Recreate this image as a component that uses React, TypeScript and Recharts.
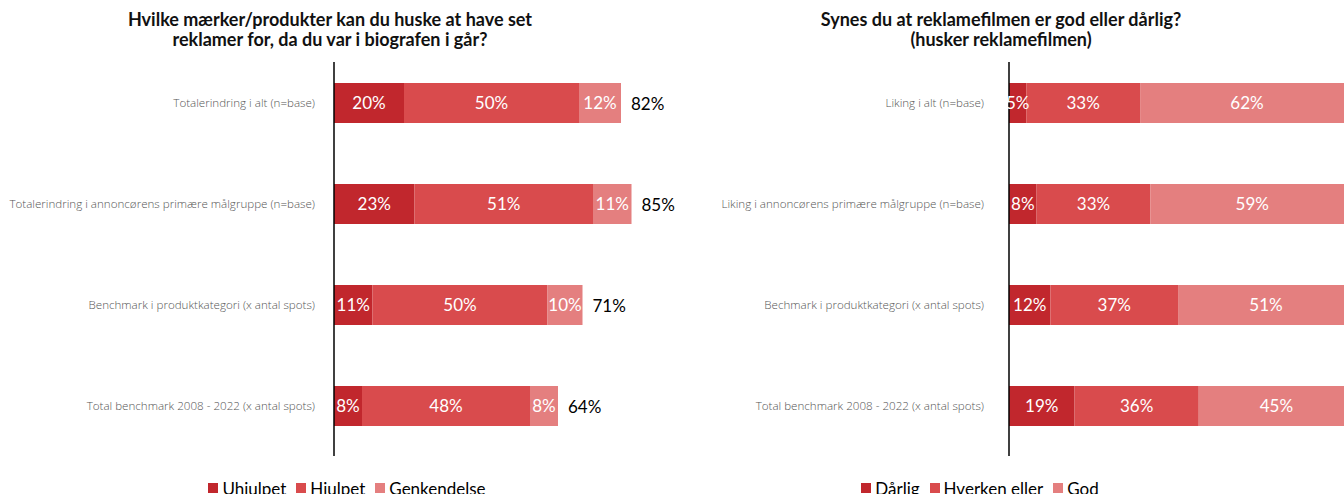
import React from 'react';
import { BarChart, Bar, XAxis, YAxis, LabelList, Legend } from 'recharts';

const recallCategories = [
  'Totalerindring i alt (n=base)',
  'Totalerindring i annoncørens primære målgruppe (n=base)',
  'Benchmark i produktkategori (x antal spots)',
  'Total benchmark 2008 - 2022 (x antal spots)',
];
const recallUnaided = [20, 23, 11, 8];
const recallAided = [50, 51, 50, 48];
const recallRecognition = [12, 11, 10, 8];
const recallSeriesNames = ['Uhjulpet', 'Hjulpet', 'Genkendelse'];

const likingCategories = [
  'Liking i alt (n=base)',
  'Liking i annoncørens primære målgruppe (n=base)',
  'Bechmark i produktkategori (x antal spots)',
  'Total benchmark 2008 - 2022 (x antal spots)',
];
const likingBad = [5, 8, 12, 19];
const likingNeutral = [33, 33, 37, 36];
const likingGood = [62, 59, 51, 45];
const likingSeriesNames = ['Dårlig', 'Hverken eller', 'God'];

const COLORS = ['#C1272D', '#D94B4D', '#E47F7F'];
const FONT = 'Lato, "Open Sans", sans-serif';

const recallData = recallCategories.map((cat, i) => ({
  cat,
  a: recallUnaided[i],
  b: recallAided[i],
  c: recallRecognition[i],
  total: recallUnaided[i] + recallAided[i] + recallRecognition[i],
}));

const likingData = likingCategories.map((cat, i) => ({
  cat,
  a: likingBad[i],
  b: likingNeutral[i],
  c: likingGood[i],
}));

const pct = (v: any) => `${v}%`;

const makeLegend = (names: string[]) => () => (
  <div
    style={{
      display: 'flex',
      justifyContent: 'center',
      alignItems: 'center',
      height: 20,
      fontFamily: FONT,
      fontSize: 17,
      color: '#000',
      whiteSpace: 'nowrap',
    }}
  >
    {names.map((n, i) => (
      <span key={n} style={{ display: 'inline-flex', alignItems: 'center', marginRight: 10 }}>
        <span style={{ display: 'inline-block', width: 10, height: 10, background: COLORS[i], marginRight: 4 }} />
        {n}
      </span>
    ))}
  </div>
);

const TotalLabel = (props: any) => {
  const { x, y, width, height, value } = props;
  return (
    <text
      x={x + width + 10}
      y={y + height / 2}
      dominantBaseline="central"
      fill="#000"
      fontSize={17}
      fontFamily={FONT}
    >
      {value}%
    </text>
  );
};

const CategoryTick = (props: any) => {
  const { x, y, payload } = props;
  return (
    <text
      x={x}
      y={y}
      textAnchor="end"
      dominantBaseline="central"
      fill="#555555"
      fontSize={11.6}
      fontWeight={300}
      fontFamily='"Open Sans", Lato, sans-serif'
    >
      {payload.value}
    </text>
  );
};

const labelStyle = { fill: '#fff', fontSize: 17, fontFamily: FONT };

function StackChart(props: {
  data: any[];
  names: string[];
  chartWidth: number;
  axisX: number;
  plotWidth: number;
  tickGap: number;
  legendLeft: number;
  legendWidth: number;
  showTotal?: boolean;
}) {
  const { data, names, chartWidth, axisX, plotWidth, tickGap, legendLeft, legendWidth, showTotal } = props;
  const keys = ['a', 'b', 'c'];
  return (
    <BarChart
      layout="vertical"
      width={chartWidth}
      height={494}
      data={data}
      margin={{ top: 62, right: chartWidth - axisX - plotWidth, bottom: 18, left: 0 }}
    >
      <XAxis type="number" domain={[0, 100]} hide />
      <YAxis
        type="category"
        dataKey="cat"
        width={axisX}
        tickLine={false}
        tickSize={0}
        tickMargin={tickGap}
        padding={{ top: -10, bottom: 0 }}
        axisLine={{ stroke: '#000', strokeWidth: 1.5 }}
        tick={CategoryTick}
        interval={0}
      />
      <Legend
        verticalAlign="bottom"
        content={makeLegend(names)}
        wrapperStyle={{ left: legendLeft, width: legendWidth, bottom: -4 }}
      />
      {keys.map((k, i) => (
        <Bar
          key={k}
          dataKey={k}
          name={names[i]}
          stackId="s"
          fill={COLORS[i]}
          barSize={40}
          isAnimationActive={false}
        >
          <LabelList dataKey={k} position="center" formatter={pct} style={labelStyle} />
          {showTotal && i === 2 ? <LabelList dataKey="total" content={TotalLabel} /> : null}
        </Bar>
      ))}
    </BarChart>
  );
}

const titleStyle: React.CSSProperties = {
  position: 'absolute',
  top: 9,
  width: 460,
  textAlign: 'center',
  fontFamily: FONT,
  fontWeight: 700,
  fontSize: 18,
  lineHeight: '20px',
  color: '#111',
  whiteSpace: 'nowrap',
};

export default function App() {
  return (
    <div
      style={{
        position: 'absolute',
        left: 0,
        top: 0,
        width: 1344,
        height: 494,
        overflow: 'hidden',
        background: '#fff',
        fontFamily: FONT,
      }}
    >
      <div style={{ position: 'absolute', left: 0, top: 0 }}>
        <StackChart
          data={recallData}
          names={recallSeriesNames}
          chartWidth={700}
          axisX={334}
          plotWidth={350}
          tickGap={19}
          legendLeft={5}
          legendWidth={694}
          showTotal
        />
      </div>
      <div style={{ position: 'absolute', left: 672, top: 0 }}>
        <StackChart
          data={likingData}
          names={likingSeriesNames}
          chartWidth={700}
          axisX={337}
          plotWidth={345}
          tickGap={25}
          legendLeft={5}
          legendWidth={616}
        />
      </div>
      <div style={{ ...titleStyle, left: 100 }}>
        Hvilke mærker/produkter kan du huske at have set
        <br />
        reklamer for, da du var i biografen i går?
      </div>
      <div style={{ ...titleStyle, left: 771 }}>
        Synes du at reklamefilmen er god eller dårlig?
        <br />
        (husker reklamefilmen)
      </div>
    </div>
  );
}
